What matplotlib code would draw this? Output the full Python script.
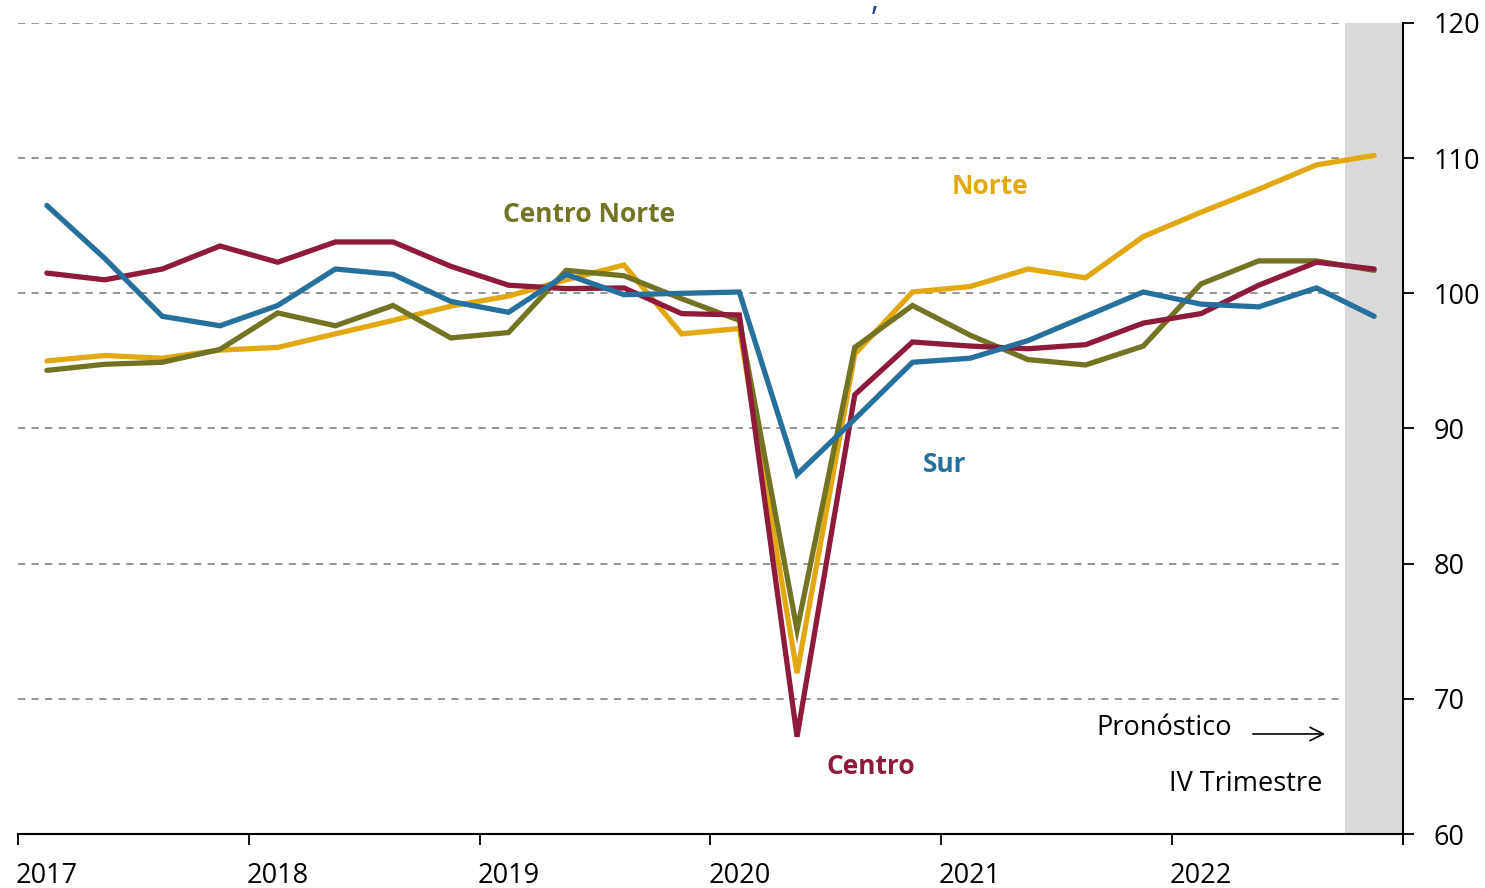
import matplotlib.pyplot as plt
import numpy as np

plt.rcParams['font.family'] = ['Open Sans', 'DejaVu Sans']

# trimestres 2017T1 - 2022T4
anios = ['2017', '2018', '2019', '2020', '2021', '2022']
norte = [95.0, 95.4, 95.2, 95.8, 96.0, 97.0, 98.0, 99.05, 99.8, 101.0, 102.1, 97.0,
         97.4, 71.9, 95.5, 100.1, 100.5, 101.8, 101.15, 104.2, 106.0, 107.7, 109.5, 110.2]
centro_norte = [94.3, 94.75, 94.9, 95.85, 98.55, 97.6, 99.1, 96.7, 97.1, 101.7, 101.3, 99.6,
                98.0, 75.1, 96.0, 99.1, 96.9, 95.1, 94.7, 96.1, 100.7, 102.4, 102.4, 101.7]
centro = [101.5, 101.0, 101.8, 103.5, 102.3, 103.8, 103.8, 102.0, 100.6, 100.35, 100.4, 98.5,
          98.4, 67.2, 92.5, 96.4, 96.1, 95.9, 96.2, 97.8, 98.5, 100.6, 102.3, 101.8]
sur = [106.5, 102.6, 98.3, 97.6, 99.1, 101.8, 101.4, 99.4, 98.6, 101.4, 99.9, 100.0,
       100.1, 86.6, 90.7, 94.9, 95.2, 96.5, 98.3, 100.1, 99.2, 99.0, 100.4, 98.3]

c_norte = '#E1A811'
c_cnorte = '#737324'
c_centro = '#8E1B3B'
c_sur = '#26709D'

x = np.arange(len(norte))

fig = plt.figure(figsize=(14.85, 8.88), dpi=100)
ax = fig.add_axes([18 / 1485, 1 - 834 / 888, (1403 - 18) / 1485, (834 - 23) / 888])

for v in [70, 80, 90, 100, 110, 120]:
    ax.axhline(v, color='#8c8c8c', lw=1.3, ls=(0, (4, 3.5)), zorder=1)
ax.axvspan(len(x) - 1.5, len(x) - 0.5, color='#d9d9d9', lw=0, zorder=2)

for serie, col in [(norte, c_norte), (centro_norte, c_cnorte), (centro, c_centro), (sur, c_sur)]:
    ax.plot(x, serie, color=col, lw=3.8, solid_joinstyle='miter', solid_capstyle='round', zorder=3)

ax.set_xlim(-0.5, len(x) - 0.5)
ax.set_ylim(60, 120)
ax.yaxis.tick_right()
ax.set_yticks([60, 70, 80, 90, 100, 110, 120])
ax.tick_params(axis='y', length=8, width=1.3, labelsize=19.5, pad=14, direction='out')
ax.set_xticks(np.arange(-0.5, len(x), 4).tolist() + [len(x) - 0.5])
ax.set_xticklabels([])
ax.set_xticks(np.arange(0, len(x), 4), minor=True)
ax.set_xticklabels(anios, minor=True)
ax.tick_params(axis='x', which='major', length=8, width=1.3, direction='out')
ax.tick_params(axis='x', which='minor', length=0, labelsize=19.5, pad=20)
for s in ['top', 'left']:
    ax.spines[s].set_visible(False)
ax.spines['bottom'].set_linewidth(1.5)
ax.spines['right'].set_linewidth(1.5)

ax.text(9.39, 105.86, 'Centro Norte', color=c_cnorte, fontsize=19, fontweight='bold', ha='center', va='center')
ax.text(16.34, 107.93, 'Norte', color=c_norte, fontsize=19, fontweight='bold', ha='center', va='center')
ax.text(15.56, 87.37, 'Sur', color=c_sur, fontsize=19, fontweight='bold', ha='center', va='center')
ax.text(14.28, 64.96, 'Centro', color=c_centro, fontsize=19, fontweight='bold', ha='center', va='center')

ax.text(20.54, 67.84, 'Pronóstico', color='black', fontsize=19.5, ha='right', va='center')
ax.annotate('', xy=(22.2, 67.4), xytext=(20.85, 67.4),
            arrowprops=dict(arrowstyle='->', color='black', lw=1.2, mutation_scale=24))
ax.text(22.1, 63.7, 'IV Trimestre', color='black', fontsize=19.5, ha='right', va='center')

fig.text(875 / 1485, 0.998, ',', color='#1f3a93', fontsize=22, ha='center', va='center')

fig.savefig('out.png', dpi=100)
